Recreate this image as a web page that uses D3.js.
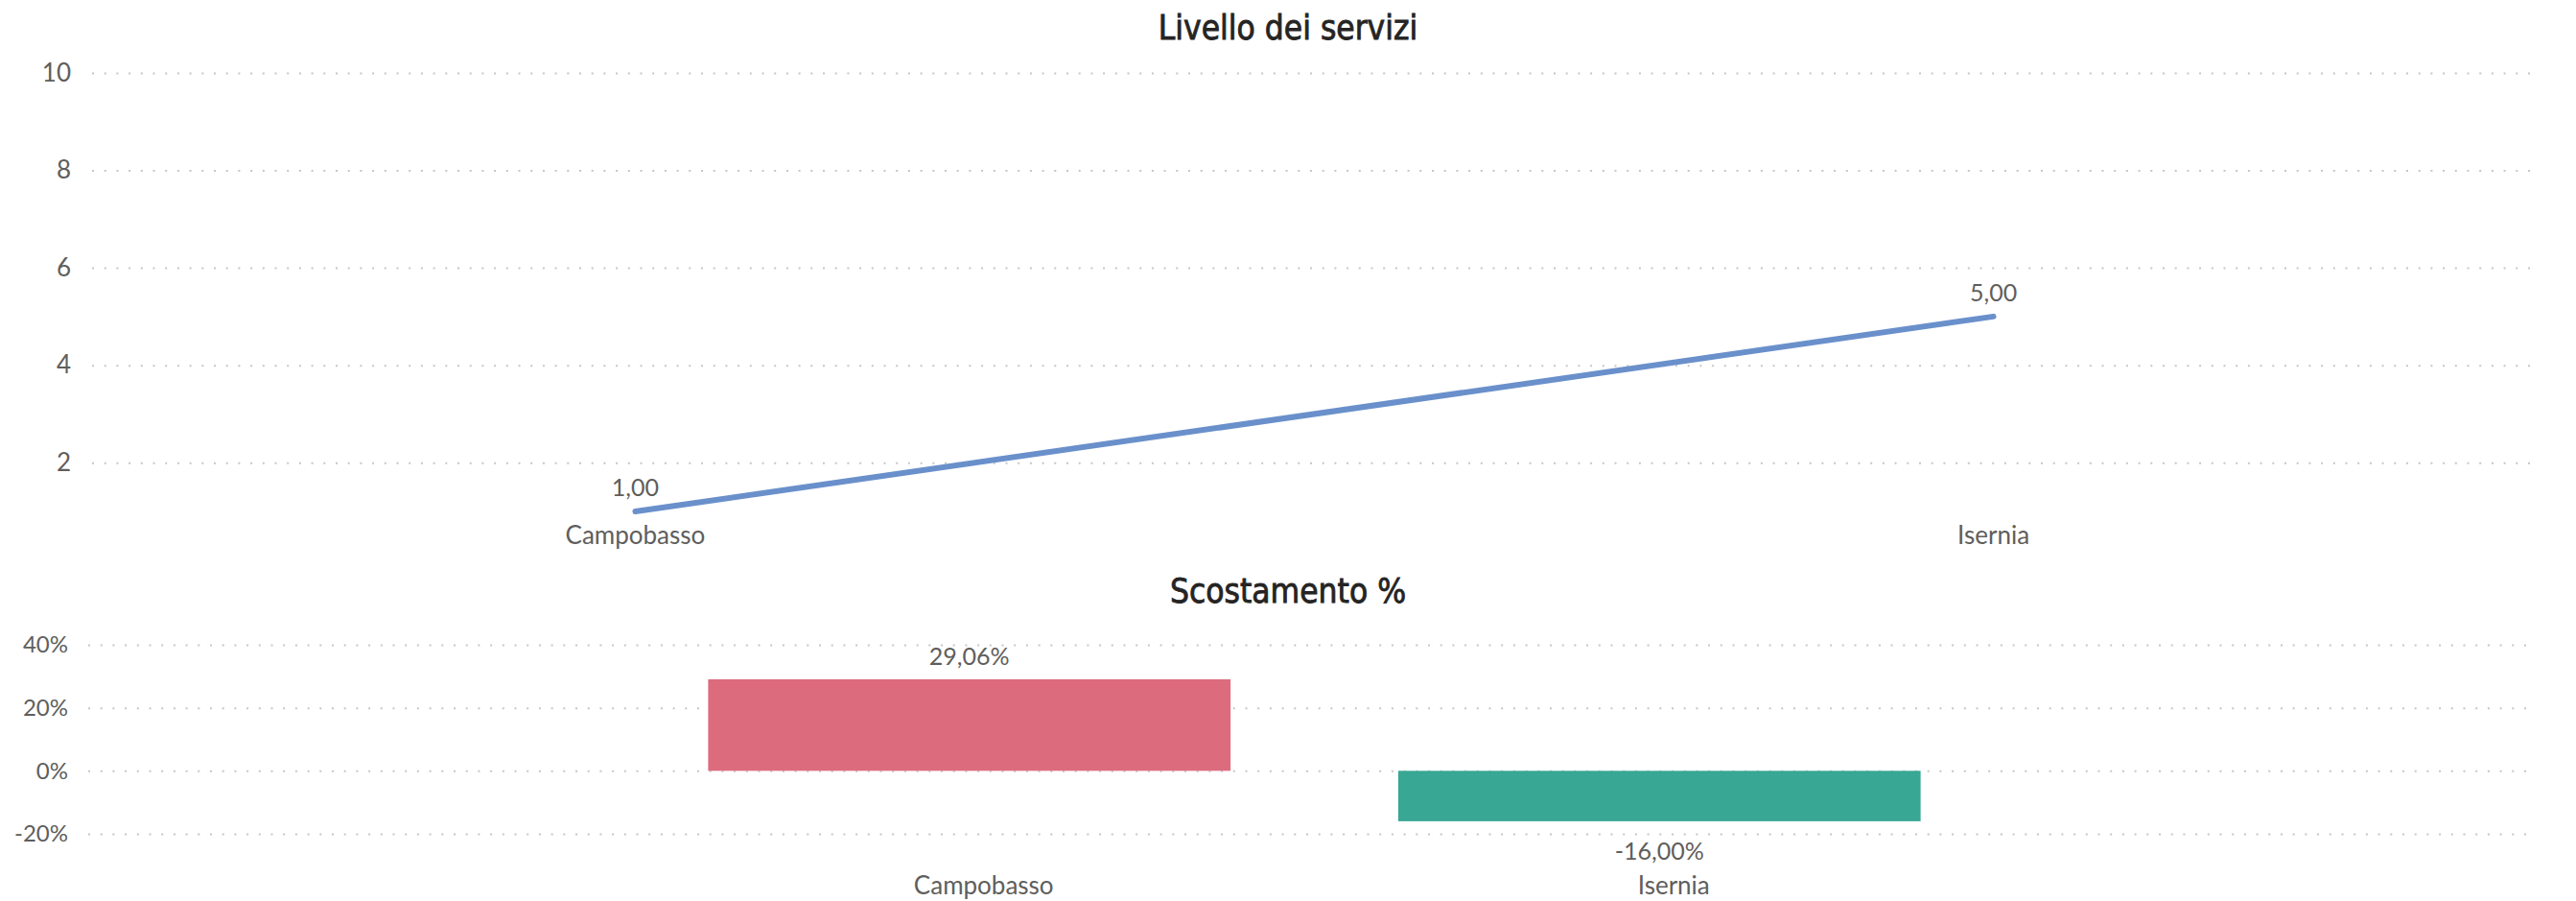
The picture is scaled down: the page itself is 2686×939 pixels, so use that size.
<!DOCTYPE html>
<html>
<head>
<meta charset="utf-8">
<script src="https://cdn.jsdelivr.net/npm/d3@7"></script>
<style>
  html, body { margin: 0; padding: 0; background: #fff; }
  #chart { width: 2686px; height: 939px; }
  .tick text, .label { font-family: "Segoe UI", Lato, "Open Sans", sans-serif; fill: #605e5c; }
  .title { font-family: "DIN", "DejaVu Sans Condensed", sans-serif; fill: #252423; stroke: #252423; stroke-width: 0.8px; }
</style>
</head>
<body>
<div id="chart"></div>
<script>
// --- data ---
const categories = ["Campobasso", "Isernia"];
const livelloServizi = [1.0, 5.0];
const scostamento = [0.2906, -0.16];
const barColors = ["#dc6b7e", "#38a793"];
const topTicks = [2, 4, 6, 8, 10];
const bottomTicks = [-0.2, 0, 0.2, 0.4];

const width = 2686;
const height = 939;

// italian number format, plain hyphen as minus sign
const it = d3.formatLocale({
  decimal: ",",
  thousands: ".",
  grouping: [3],
  currency: ["€", ""],
  minus: "-",
});
const fmtNum = it.format(".2f");
const fmtPct = it.format(".2%");
const fmtTick = it.format(".0%");

const svg = d3
  .select("#chart")
  .append("svg")
  .attr("width", width)
  .attr("height", height)
  .attr("viewBox", [0, 0, width, height]);

// ---------- top chart: Livello dei servizi ----------
const topGrid = { x0: 96, x1: 2638 };

svg
  .append("text")
  .attr("class", "title")
  .attr("x", width / 2)
  .attr("y", 41)
  .attr("text-anchor", "middle")
  .style("font-size", "35px")
  .text("Livello dei servizi");

const xTop = d3.scalePoint().domain(categories).range([96, 2645]).padding(0.4);
const yTop = d3.scaleLinear().domain([1, 10]).range([533, 76]);

const yAxisTop = svg
  .append("g")
  .attr("transform", `translate(${topGrid.x0},0)`)
  .call(
    d3
      .axisLeft(yTop)
      .tickValues(topTicks)
      .tickSize(-(topGrid.x1 - topGrid.x0))
      .tickPadding(22)
      .tickFormat(d3.format("d"))
  );
yAxisTop.select(".domain").remove();
yAxisTop
  .selectAll(".tick line")
  .attr("stroke", "#c8c6c4")
  .attr("stroke-width", 2)
  .attr("stroke-dasharray", "2,10.7");
yAxisTop.selectAll(".tick text").style("font-size", "26px");

// x labels
svg
  .append("g")
  .selectAll("text")
  .data(categories)
  .join("text")
  .attr("class", "label")
  .attr("x", (d) => xTop(d))
  .attr("y", 567)
  .attr("text-anchor", "middle")
  .style("font-size", "26px")
  .text((d) => d);

const line = d3
  .line()
  .x((d, i) => xTop(categories[i]))
  .y((d) => yTop(d));

svg
  .append("path")
  .datum(livelloServizi)
  .attr("fill", "none")
  .attr("stroke", "#6a90cb")
  .attr("stroke-width", 6)
  .attr("stroke-linecap", "round")
  .attr("d", line);

svg
  .append("g")
  .selectAll("text")
  .data(livelloServizi)
  .join("text")
  .attr("class", "label")
  .attr("x", (d, i) => xTop(categories[i]))
  .attr("y", (d) => yTop(d) - 16)
  .attr("text-anchor", "middle")
  .style("font-size", "25px")
  .text((d) => fmtNum(d));

// ---------- bottom chart: Scostamento % ----------
const botGrid = { x0: 92, x1: 2638 };

svg
  .append("text")
  .attr("class", "title")
  .attr("x", width / 2)
  .attr("y", 628)
  .attr("text-anchor", "middle")
  .style("font-size", "35px")
  .text("Scostamento %");

const xBot = d3
  .scaleBand()
  .domain(categories)
  .range([98, 2643])
  .paddingInner(0.243)
  .paddingOuter(0.89);
const yBot = d3.scaleLinear().domain([-0.2, 0.4]).range([869, 672]);

const yAxisBot = svg
  .append("g")
  .attr("transform", `translate(${botGrid.x0},0)`)
  .call(
    d3
      .axisLeft(yBot)
      .tickValues(bottomTicks)
      .tickSize(-(botGrid.x1 - botGrid.x0))
      .tickPadding(21)
      .tickFormat(fmtTick)
  );
yAxisBot.select(".domain").remove();
yAxisBot
  .selectAll(".tick line")
  .attr("stroke", "#c8c6c4")
  .attr("stroke-width", 2)
  .attr("stroke-dasharray", "2,10.7");
yAxisBot.selectAll(".tick text").style("font-size", "24px");

svg
  .append("g")
  .selectAll("rect")
  .data(scostamento)
  .join("rect")
  .attr("x", (d, i) => xBot(categories[i]))
  .attr("width", xBot.bandwidth())
  .attr("y", (d) => yBot(Math.max(0, d)))
  .attr("height", (d) => Math.abs(yBot(d) - yBot(0)))
  .attr("fill", (d, i) => barColors[i]);

// data labels
svg
  .append("g")
  .selectAll("text")
  .data(scostamento)
  .join("text")
  .attr("class", "label")
  .attr("x", (d, i) => xBot(categories[i]) + xBot.bandwidth() / 2)
  .attr("y", (d) => (d >= 0 ? yBot(d) - 15 : yBot(d) + 40))
  .attr("text-anchor", "middle")
  .style("font-size", "25px")
  .text((d) => fmtPct(d));

// x labels (sit a bit right of the bar centre, as in the original)
svg
  .append("g")
  .selectAll("text")
  .data(categories)
  .join("text")
  .attr("class", "label")
  .attr("x", (d) => xBot(d) + xBot.bandwidth() / 2 + 15)
  .attr("y", 932)
  .attr("text-anchor", "middle")
  .style("font-size", "26px")
  .text((d) => d);
</script>
</body>
</html>
